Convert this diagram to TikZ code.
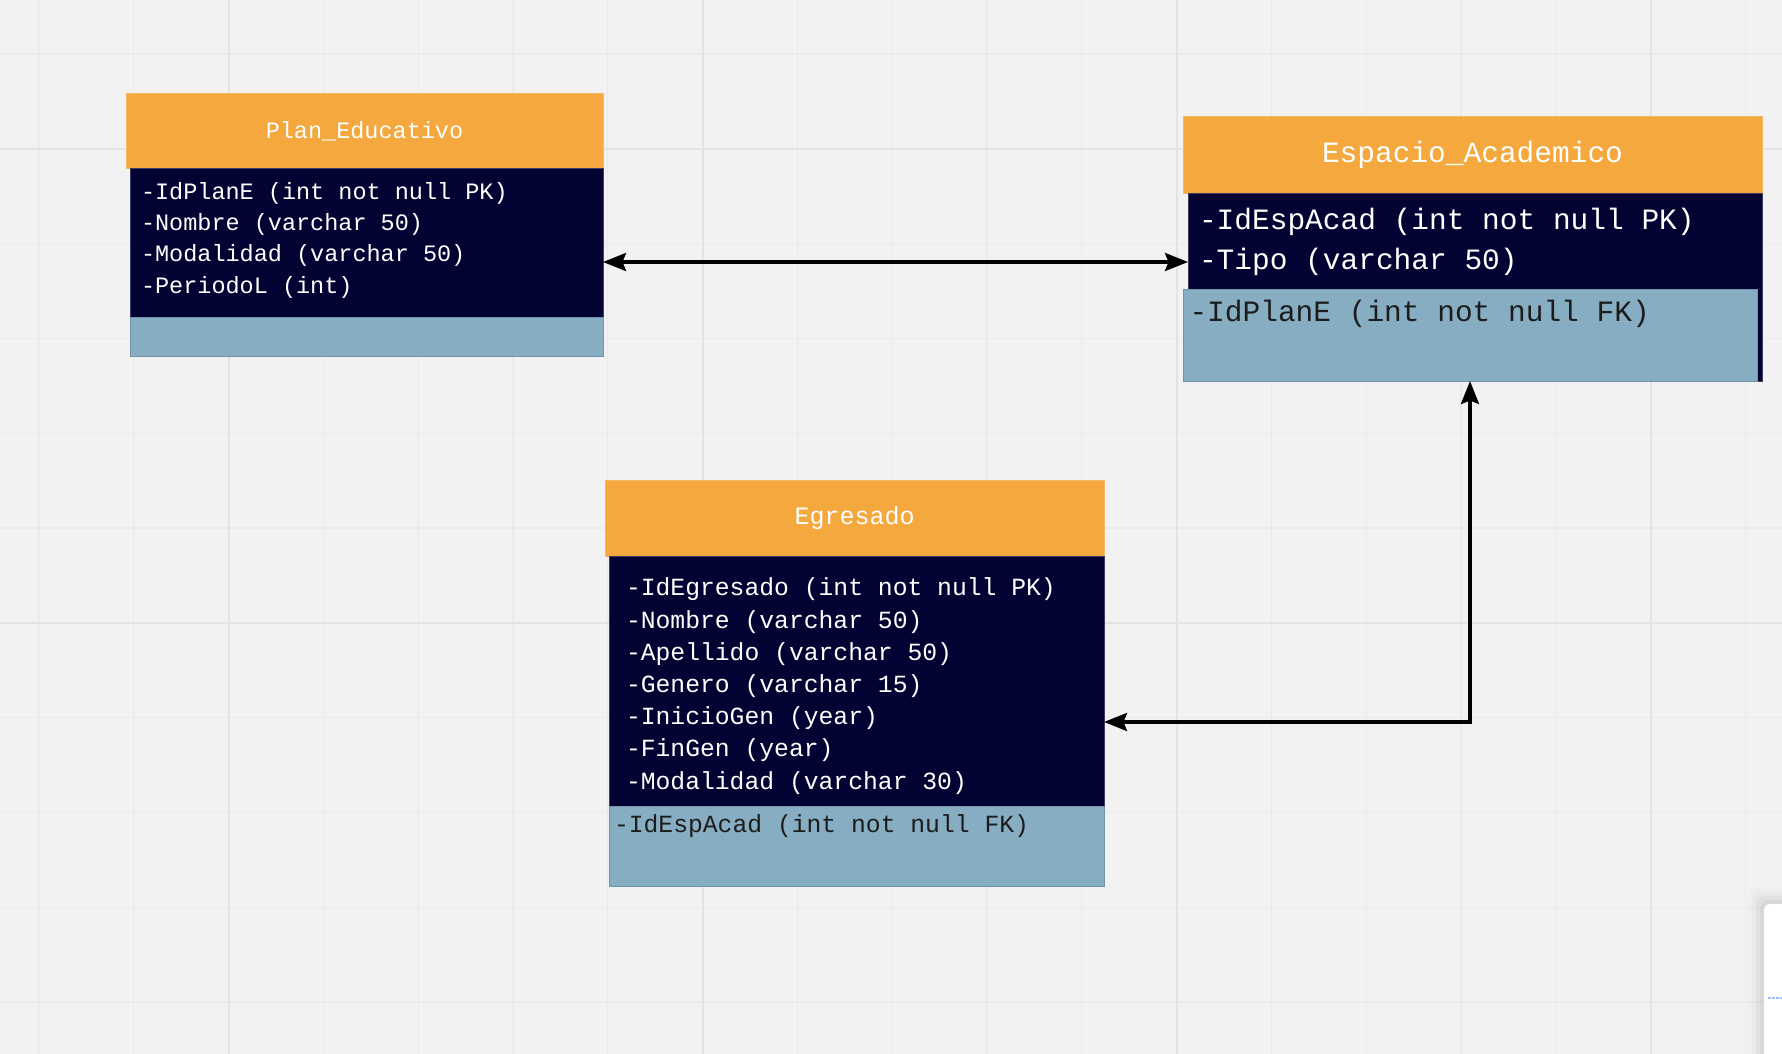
\documentclass[tikz,border=0pt]{standalone}
\usepackage{fontspec}
\newfontfamily\codefont{Liberation Mono}
\usetikzlibrary{arrows.meta}

\definecolor{canvas}{HTML}{F2F2F2}
\definecolor{gridminor}{HTML}{EAEAEA}
\definecolor{gridmajor}{HTML}{E3E3E3}
\definecolor{headfill}{HTML}{F4A83D}
\definecolor{headline}{HTML}{F6B963}
\definecolor{bodyfill}{HTML}{020233}
\definecolor{bodyline}{HTML}{3B3D66}
\definecolor{keyfill}{HTML}{86ADC2}
\definecolor{keyline}{HTML}{7094AC}
\definecolor{keytext}{HTML}{1C1C1C}
\definecolor{cardmark}{HTML}{9EC1F5}

\tikzset{
  box/.style={rectangle, inner sep=0pt, outer sep=0pt, line width=1pt},
  headbox/.style={box, fill=headfill, draw=headline, text=white},
  bodybox/.style={box, fill=bodyfill, draw=bodyline},
  keybox/.style={box, fill=keyfill, draw=keyline},
  row/.style={anchor=base west, inner sep=0pt, outer sep=0pt, text=white},
  keyrow/.style={anchor=base west, inner sep=0pt, outer sep=0pt, text=keytext},
  fontplan/.style={font=\codefont\fontsize{23.5}{28}\selectfont},
  fontesp/.style={font=\codefont\fontsize{29.5}{35}\selectfont},
  fontegr/.style={font=\codefont\fontsize{24.7}{30}\selectfont},
  fontegrtitle/.style={font=\codefont\fontsize{25}{30}\selectfont},
  tip/.tip={Stealth[length=23pt,width=18pt,inset=3.5pt]},
  link/.style={line width=3.3pt, draw=black, tip-tip},
}

\begin{document}
\begin{tikzpicture}[x=1pt,y=-1pt]
  % canvas
  \fill[canvas] (0,0) rectangle (1782,1054);
  \useasboundingbox (0,0) rectangle (1782,1054);

  % background grid
  \foreach \k in {0,...,18}
    \draw[gridminor, line width=1.3pt] ({39+94.8*\k},0) -- ({39+94.8*\k},1054);
  \foreach \k in {0,...,10}
    \draw[gridminor, line width=1.3pt] (0,{54+94.8*\k}) -- (1782,{54+94.8*\k});
  \foreach \k in {2,7,12,17}
    \draw[gridmajor, line width=2pt] ({39+94.8*\k},0) -- ({39+94.8*\k},1054);
  \foreach \k in {1,6}
    \draw[gridmajor, line width=2pt] (0,{54+94.8*\k}) -- (1782,{54+94.8*\k});

  % ---------- Plan_Educativo ----------
  \node[headbox, fontplan, minimum width=477pt, minimum height=74pt] (pe-head) at (364.5,131) {Plan\_Educativo};
  \node[bodybox, minimum width=473pt, minimum height=149pt] (pe-body) at (366.5,242.5) {};
  \node[keybox, minimum width=473pt, minimum height=39pt] (pe-key) at (366.5,336.5) {};
  \foreach \t [count=\i] in {-IdPlanE (int not null PK),-Nombre (varchar 50),-Modalidad (varchar 50),-PeriodoL (int)}
    \node[row, fontplan] (pe-r\i) at (141,{199.5+31.2*(\i-1)}) {\t};

  % ---------- Espacio_Academico ----------
  \node[headbox, fontesp, minimum width=579pt, minimum height=76pt] (es-head) at (1472.5,155) {Espacio\_Academico};
  \node[bodybox, minimum width=574pt, minimum height=188pt] (es-body) at (1475,287) {};
  \node[keybox, minimum width=574pt, minimum height=92pt] (es-key) at (1470,335) {};
  \foreach \t [count=\i] in {-IdEspAcad (int not null PK),-Tipo (varchar 50)}
    \node[row, fontesp] (es-r\i) at (1199,{229.8+39.8*(\i-1)}) {\t};
  \node[keyrow, fontesp] (es-k1) at (1189.5,321.5) {-IdPlanE (int not null FK)};

  % ---------- Egresado ----------
  \node[headbox, fontegrtitle, minimum width=499pt, minimum height=76pt] (eg-head) at (854.5,518) {Egresado};
  \node[bodybox, minimum width=495pt, minimum height=250pt] (eg-body) at (856.5,681) {};
  \node[keybox, minimum width=495pt, minimum height=80pt] (eg-key) at (856.5,846) {};
  \foreach \t [count=\i] in {-IdEgresado (int not null PK),-Nombre (varchar 50),-Apellido (varchar 50),-Genero (varchar 15),-InicioGen (year),-FinGen (year),-Modalidad (varchar 30)}
    \node[row, fontegr] (eg-r\i) at (626,{595.8+32.2*(\i-1)}) {\t};
  \node[keyrow, fontegr] (eg-k1) at (614,832.5) {-IdEspAcad (int not null FK)};

  % ---------- relationships ----------
  \coordinate (lvl-a) at (0,262);
  \coordinate (lvl-b) at (0,722);
  \draw[link] (pe-body.east |- lvl-a) -- (es-body.west |- lvl-a);
  \draw[link] (eg-body.east |- lvl-b) -| (es-key.south);

  % side panel peeking in at the lower right
  \foreach \s/\o in {16/0.015,12/0.02,8/0.03,4/0.04}
    \fill[black, opacity=\o, rounded corners=8pt] ({1764-\s},{904-\s}) rectangle (1810,1080);
  \fill[white, rounded corners=6pt] (1764,904) rectangle (1810,1080);
  \draw[cardmark, line width=1.6pt, dash pattern=on 2.5pt off 1.5pt] (1768,998) -- (1782,998);
\end{tikzpicture}
\end{document}
